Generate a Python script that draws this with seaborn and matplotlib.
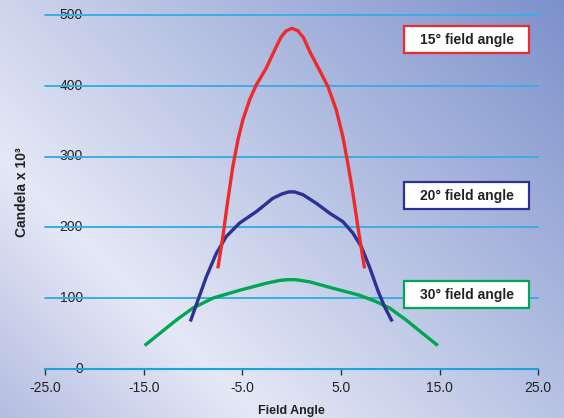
import numpy as np
import pandas as pd
import matplotlib
matplotlib.use("Agg")
import matplotlib.pyplot as plt
import seaborn as sns
from matplotlib.patches import Rectangle

# ---- data ----
red_x = [-7.48, -6.97, -6.46, -5.96, -5.45, -4.94, -4.26, -3.59, -2.57, -1.56, -1.1, -0.6, 0.0,
         0.6, 1.2, 1.81, 2.82, 3.67, 4.52, 5.19, 5.70, 6.21, 6.71, 7.39]
red_y = [142, 187, 239, 286, 323, 352, 380, 401, 425, 455, 468, 477, 481,
         478, 468, 449, 422, 399, 366, 328, 290, 248, 201, 142]
blue_x = [-10.27, -9.5, -8.65, -7.64, -6.63, -5.28, -3.59, -1.9, -1.0, -0.3, 0.3,
          1.15, 2.49, 3.84, 5.19, 6.2, 7.05, 7.89, 8.73, 9.41, 10.19]
blue_y = [67, 97, 130, 163, 187, 206, 222, 241, 247, 250, 250,
          246, 234, 220, 208, 192, 173, 144, 111, 88, 67]
green_x = [-14.9, -13.38, -11.69, -10.0, -7.98, -5.28, -2.57, -1.2, -0.4, 0.4,
           1.81, 4.17, 6.88, 8.57, 9.92, 11.61, 13.29, 14.81]
green_y = [33, 50, 69, 86, 100, 111, 121, 125, 126, 126,
           123, 114, 104, 95, 86, 69, 50, 33]
series_labels = ["15° field angle", "20° field angle", "30° field angle"]
series_colors = ["#ee2a2a", "#2e3192", "#00a651"]
x_ticks = [-25.0, -15.0, -5.0, 5.0, 15.0, 25.0]
y_ticks = [0, 100, 200, 300, 400, 500]

sns.set_theme(style="white")
plt.rcParams["font.family"] = ["Liberation Sans", "DejaVu Sans"]

W, H = 564, 418
fig = plt.figure(figsize=(W / 100, H / 100), dpi=100)

# background gradient
bg = fig.add_axes([0, 0, 1, 1], zorder=0)
yy, xx = np.mgrid[0:H, 0:W]
u = ((xx - 130) - (yy - 290)) / np.sqrt(2)
light = np.array([229, 232, 246]) / 255.0
dark_tr = np.array([122, 143, 202]) / 255.0
dark_bl = np.array([182, 191, 226]) / 255.0
t_pos = np.clip(u / 520.0, 0, 1)[..., None]
t_neg = np.clip(-u / 175.0, 0, 1.3)[..., None]
img = light + (dark_tr - light) * t_pos + (dark_bl - light) * t_neg
img = np.clip(img, 0, 1)
bg.imshow(img, aspect="auto", extent=[0, 1, 0, 1], origin="upper")
bg.axis("off")

ax = fig.add_axes([45 / W, 1 - 368.9 / H, (538.3 - 45) / W, (368.9 - 14.9) / H], zorder=1)
ax.set_facecolor("none")
ax.grid(False)

grid_c = "#3aaee3"
for yv in y_ticks[1:]:
    ax.axhline(yv, color=grid_c, lw=1.4, zorder=1, clip_on=False)

df_r = pd.DataFrame({"x": red_x, "y": red_y})
df_b = pd.DataFrame({"x": blue_x, "y": blue_y})
df_g = pd.DataFrame({"x": green_x, "y": green_y})
for df, c in zip([df_g, df_b, df_r], [series_colors[2], series_colors[1], series_colors[0]]):
    sns.lineplot(data=df, x="x", y="y", ax=ax, color=c, lw=2.4, sort=False,
                 estimator=None, zorder=3, solid_joinstyle="round", solid_capstyle="butt")

ax.set_xlim(-25, 25)
ax.set_ylim(0, 500)
ax.set_xticks(x_ticks)
ax.set_xticklabels([f"{v:.1f}" for v in x_ticks], fontsize=10, color="#222222")
ax.set_yticks(y_ticks)
ax.set_yticklabels([str(v) for v in y_ticks], fontsize=10, color="#222222")
ax.tick_params(axis="x", length=4, width=1, color="#333333", pad=5, direction="out", bottom=True)
ax.tick_params(axis="y", length=0, pad=-27.4)
for lab in ax.get_yticklabels():
    lab.set_horizontalalignment("right")
    lab.set_verticalalignment("center")
    lab.set_zorder(2)

for s in ["top", "right", "left"]:
    ax.spines[s].set_visible(False)
ax.spines["bottom"].set_color("#1aa5e0")
ax.spines["bottom"].set_linewidth(1.5)

ax.set_xlabel("Field Angle", fontsize=9, fontweight="bold", color="#222222", labelpad=7)
ax.set_ylabel("Candela x 10³", fontsize=10, fontweight="bold", color="#222222", labelpad=0)
ax.yaxis.set_label_coords(-0.033, 0.5)

# legend boxes
box_y = [0.8915, 0.451, 0.171]
for lab, c, by in zip(series_labels, series_colors, box_y):
    ax.add_patch(Rectangle((0.728, by), 0.254, 0.076, transform=ax.transAxes,
                           facecolor="white", edgecolor=c, lw=1.6, zorder=5, clip_on=False))
    ax.text(0.728 + 0.127, by + 0.038, lab, transform=ax.transAxes, ha="center", va="center",
            fontsize=10, fontweight="bold", color="#222222", zorder=6)

fig.savefig("out.png", dpi=100)
